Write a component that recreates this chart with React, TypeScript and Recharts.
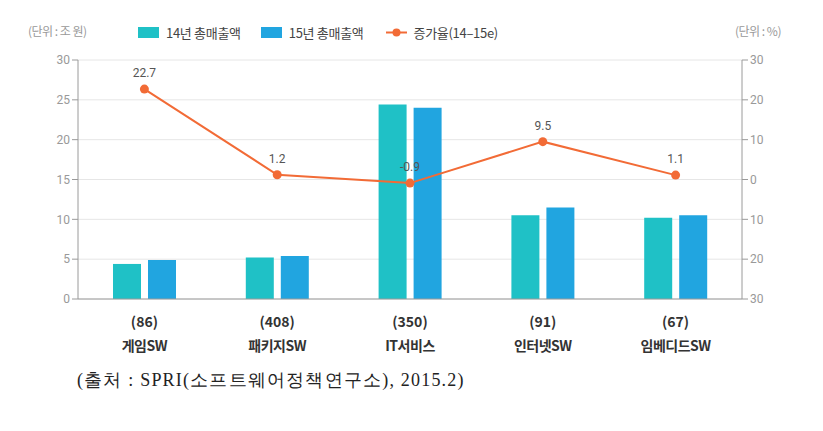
import {
  Bar,
  CartesianGrid,
  ComposedChart,
  LabelList,
  Legend,
  Line,
  XAxis,
  YAxis,
} from "recharts";

const categories = ["게임SW", "패키지SW", "IT서비스", "인터넷SW", "임베디드SW"];
const counts = ["(86)", "(408)", "(350)", "(91)", "(67)"];
const sales14 = [4.4, 5.2, 24.4, 10.5, 10.2];
const sales15 = [4.9, 5.4, 24.0, 11.5, 10.5];
const growth = [22.7, 1.2, -0.9, 9.5, 1.1];

const leftTicks = [0, 5, 10, 15, 20, 25, 30];
const rightTicks = [-30, -20, -10, 0, 10, 20, 30];

const TEAL = "#1fc1c6";
const BLUE = "#21a5e0";
const ORANGE = "#f26b36";
const AXIS = "#9a9a9a";
const TICK_FONT = "Roboto, 'Noto Sans CJK KR', sans-serif";

const data = categories.map((name, i) => ({
  name,
  count: counts[i],
  s14: sales14[i],
  s15: sales15[i],
  growth: growth[i],
}));

function CategoryTick({ x, y, payload, index }: any) {
  return (
    <g transform={`translate(${x},${y})`}>
      <text
        textAnchor="middle"
        y={20}
        fontSize={14}
        fontWeight={600}
        fill="#333"
        fontFamily="'Noto Sans CJK KR', sans-serif"
      >
        {counts[index]}
      </text>
      <text
        textAnchor="middle"
        y={44}
        fontSize={14}
        fontWeight={600}
        fill="#333"
        fontFamily="'Noto Sans CJK KR', sans-serif"
        letterSpacing={-0.5}
      >
        {payload.value}
      </text>
    </g>
  );
}

function TopLegend() {
  const label = {
    fontSize: 13,
    color: "#444",
    fontFamily: "'Noto Sans CJK KR', sans-serif",
    letterSpacing: -0.3,
  };
  const unit = {
    position: "absolute" as const,
    fontSize: 12,
    color: "#999",
    fontFamily: "'Noto Sans CJK KR', sans-serif",
    letterSpacing: -0.5,
  };
  return (
    <div style={{ position: "relative", width: 823, height: 20 }}>
      <span style={{ ...unit, left: 28 }}>(단위 : 조 원)</span>
      <span style={{ ...unit, left: 735 }}>(단위 : %)</span>
      <div
        style={{
          position: "absolute",
          left: 138,
          top: 1,
          display: "flex",
          alignItems: "center",
        }}
      >
        <span style={{ width: 21, height: 11, background: TEAL, marginRight: 7 }} />
        <span style={{ ...label, marginRight: 20 }}>14년 총매출액</span>
        <span style={{ width: 21, height: 11, background: BLUE, marginRight: 7 }} />
        <span style={{ ...label, marginRight: 22 }}>15년 총매출액</span>
        <svg width={21} height={11} style={{ marginRight: 7 }}>
          <line x1={0} y1={5.5} x2={21} y2={5.5} stroke={ORANGE} strokeWidth={2} />
          <circle cx={10.5} cy={5.5} r={4} fill={ORANGE} />
        </svg>
        <span style={label}>증가율(14–15e)</span>
      </div>
    </div>
  );
}

export default function App() {
  return (
    <div
      style={{
        position: "absolute",
        left: 0,
        top: 0,
        width: 823,
        height: 431,
        background: "#fff",
      }}
    >
      <ComposedChart
        width={823}
        height={400}
        data={data}
        margin={{ top: 40, right: 41, bottom: 41, left: 38 }}
        barSize={28}
        barGap={7}
      >
        <CartesianGrid vertical={false} stroke="#e6e6e6" yAxisId="left" />
        <XAxis
          dataKey="name"
          height={60}
          tickLine={false}
          axisLine={{ stroke: AXIS }}
          tick={<CategoryTick />}
          interval={0}
        />
        <YAxis
          yAxisId="left"
          orientation="left"
          width={40}
          domain={[0, 30]}
          ticks={leftTicks}
          axisLine={{ stroke: AXIS }}
          tickLine={{ stroke: AXIS }}
          tickSize={6}
          tick={{ fill: "#999", fontSize: 12, fontFamily: TICK_FONT }}
        />
        <YAxis
          yAxisId="right"
          orientation="right"
          width={40}
          domain={[-30, 30]}
          ticks={rightTicks}
          tickFormatter={(v: number) => String(Math.abs(v))}
          axisLine={{ stroke: AXIS }}
          tickLine={{ stroke: AXIS }}
          tickSize={6}
          tick={{ fill: "#999", fontSize: 12, fontFamily: TICK_FONT }}
        />
        <Legend
          verticalAlign="top"
          content={() => <TopLegend />}
          wrapperStyle={{ top: 22, left: 0, width: 823, height: 20 }}
        />
        <Bar yAxisId="left" dataKey="s14" fill={TEAL} isAnimationActive={false} />
        <Bar yAxisId="left" dataKey="s15" fill={BLUE} isAnimationActive={false} />
        <Line
          yAxisId="right"
          dataKey="growth"
          stroke={ORANGE}
          strokeWidth={2}
          dot={{ r: 4.5, fill: ORANGE, stroke: ORANGE, strokeWidth: 0 }}
          isAnimationActive={false}
        >
          <LabelList
            dataKey="growth"
            position="top"
            offset={12}
            fill="#555"
            fontSize={12}
            fontFamily={TICK_FONT}
          />
        </Line>
      </ComposedChart>
      <div
        style={{
          position: "absolute",
          left: 77,
          top: 368,
          fontSize: 18,
          letterSpacing: 1.2,
          fontFamily: "'Liberation Serif', serif",
          color: "#222",
          whiteSpace: "nowrap",
        }}
      >
        (출처 : SPRI(소프트웨어정책연구소), 2015.2)
      </div>
    </div>
  );
}
